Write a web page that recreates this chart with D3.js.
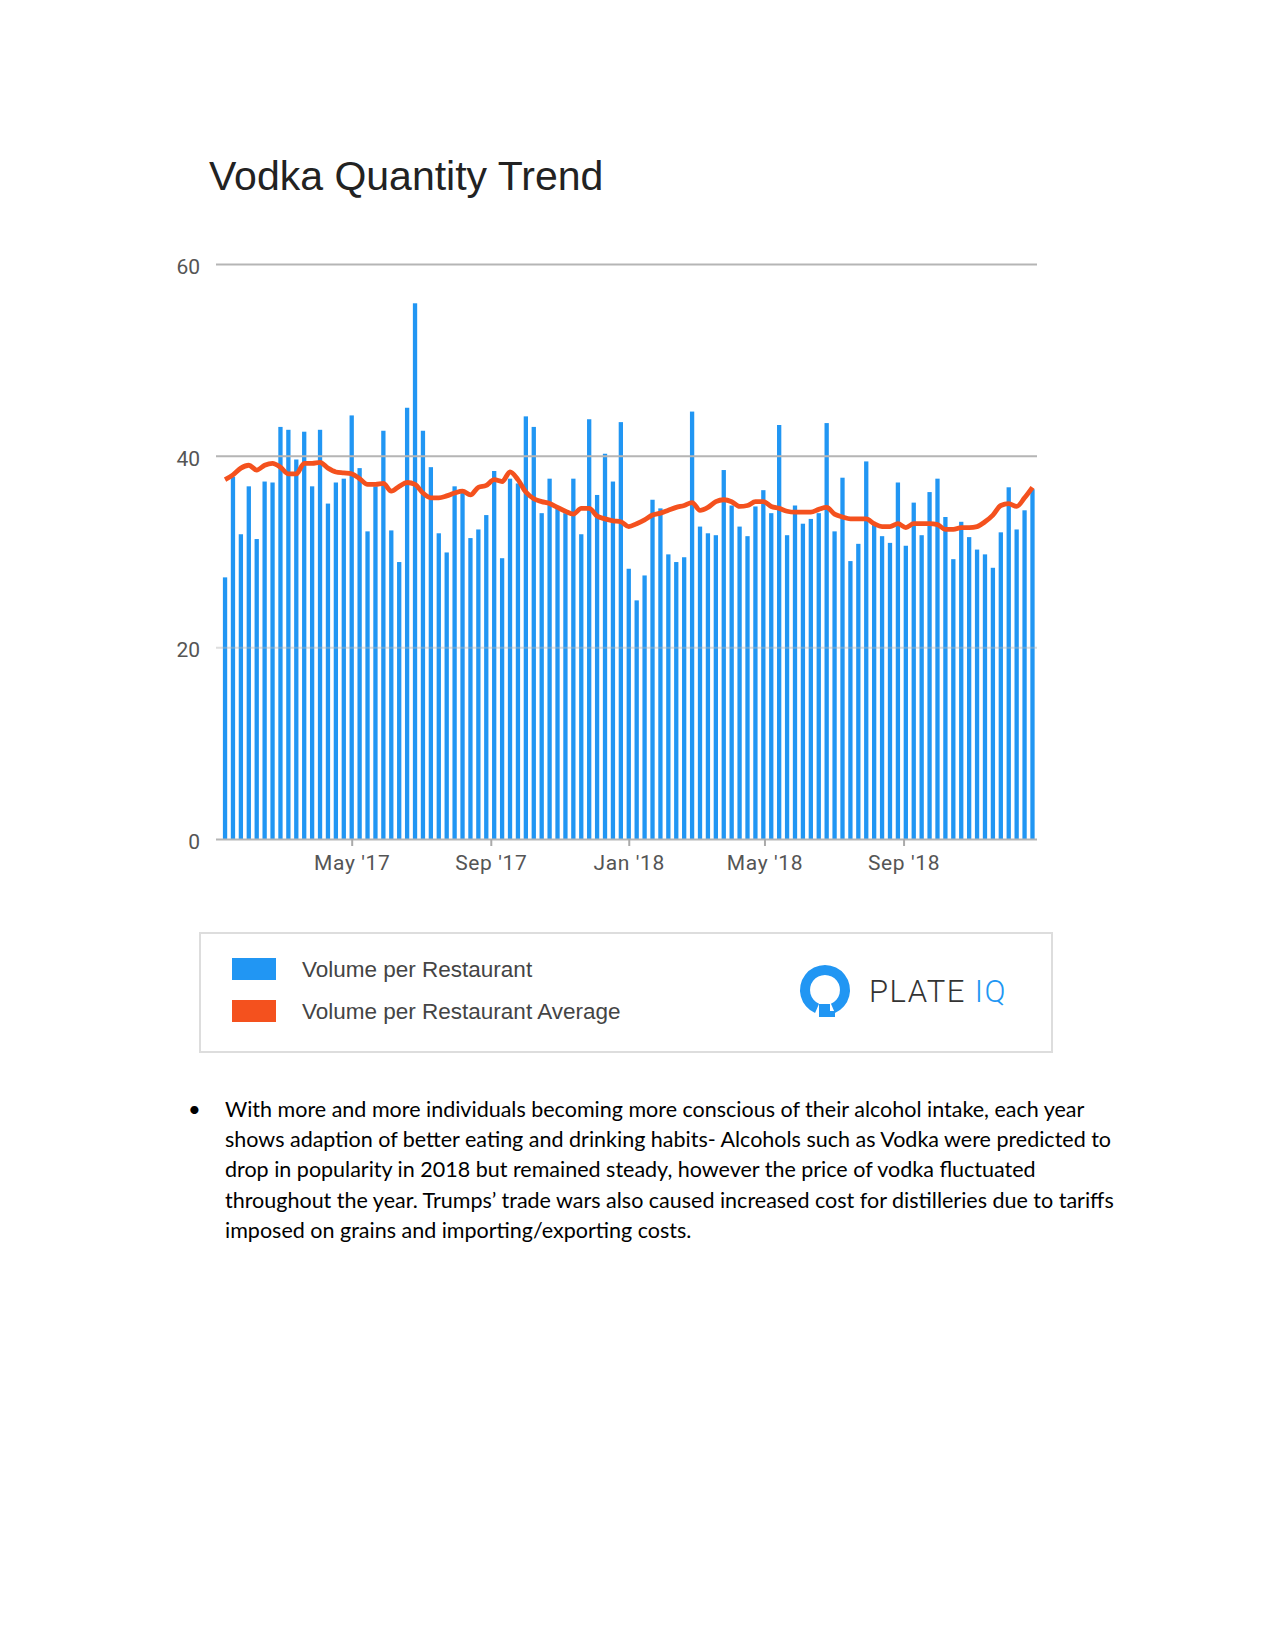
<!DOCTYPE html>
<html>
<head>
<meta charset="utf-8">
<script src="https://cdn.jsdelivr.net/npm/d3@7"></script>
<style>
  body { margin: 0; background: #fff; }
  svg { display: block; }
</style>
</head>
<body>
<svg id="js-svg" width="1275" height="1650"></svg>
<script>
// weekly volume per restaurant
const volume = [
  27.3, 37.8, 31.8, 36.8, 31.3, 37.3, 37.2, 43.0, 42.7, 39.6, 42.5, 36.8, 42.7, 35.0, 37.2, 37.6,
  44.2, 38.7, 32.1, 36.8, 42.6, 32.2, 28.9, 45.0, 55.9, 42.6, 38.8, 31.9, 29.9, 36.8, 36.1, 31.4,
  32.3, 33.8, 38.4, 29.3, 37.6, 37.1, 44.1, 43.0, 34.0, 37.6, 34.5, 34.0, 37.6, 31.8, 43.8, 35.9,
  40.2, 37.3, 43.5, 28.2, 24.9, 27.5, 35.4, 34.5, 29.7, 28.9, 29.4, 44.6, 32.6, 31.9, 31.7, 38.5,
  34.8, 32.6, 31.6, 34.7, 36.4, 34.0, 43.2, 31.7, 34.8, 32.9, 33.4, 34.0, 43.4, 32.1, 37.7, 29.0,
  30.8, 39.4, 33.0, 31.6, 30.9, 37.2, 30.6, 35.1, 31.7, 36.2, 37.6, 33.6, 29.2, 33.1, 31.5, 30.2,
  29.7, 28.3, 32.0, 36.7, 32.3, 34.3, 36.5
];

const average = [
  37.5, 38.0, 38.7, 39.0, 38.5, 39.0, 39.2, 38.8, 38.1, 38.1, 39.2, 39.2, 39.3, 38.7, 38.3, 38.2,
  38.1, 37.6, 37.0, 37.0, 37.1, 36.3, 36.8, 37.2, 37.0, 36.1, 35.6, 35.6, 35.8, 36.1, 36.3, 35.9,
  36.7, 36.9, 37.5, 37.3, 38.3, 37.5, 36.2, 35.5, 35.2, 35.0, 34.6, 34.2, 33.9, 34.5, 34.5, 33.7,
  33.4, 33.2, 33.1, 32.6, 32.9, 33.3, 33.8, 34.0, 34.3, 34.6, 34.8, 35.1, 34.3, 34.6, 35.2, 35.4,
  35.2, 34.7, 34.8, 35.2, 35.2, 34.7, 34.5, 34.2, 34.1, 34.1, 34.1, 34.4, 34.6, 33.9, 33.6, 33.4,
  33.4, 33.4, 32.9, 32.6, 32.6, 32.9, 32.5, 32.9, 32.9, 32.9, 32.8, 32.3, 32.3, 32.5, 32.5, 32.6,
  33.1, 33.8, 34.8, 35.0, 34.7, 35.6, 36.7
];

// one bar per week, starting the week of Jan 9 2017
const weeks = d3.timeMonday.range(new Date(2017, 0, 9), new Date(2018, 11, 31)).slice(0, volume.length);

const xTicks = [new Date(2017, 4, 1), new Date(2017, 8, 1), new Date(2018, 0, 1), new Date(2018, 4, 1), new Date(2018, 8, 1)];
const yTicks = [0, 20, 40, 60];

const legendItems = [
  { label: "Volume per Restaurant", color: "#2196F3" },
  { label: "Volume per Restaurant Average", color: "#F4511E" }
];

const bulletLines = [
  "With more and more individuals becoming more conscious of their alcohol intake, each year",
  "shows adaption of better eating and drinking habits- Alcohols such as Vodka were predicted to",
  "drop in popularity in 2018 but remained steady, however the price of vodka fluctuated",
  "throughout the year. Trumps\u2019 trade wars also caused increased cost for distilleries due to tariffs",
  "imposed on grains and importing/exporting costs."
];

const svg = d3.select("#js-svg");
const plotLeft = 216, plotRight = 1037, plotTop = 264, plotBottom = 839;

const xscale = d3.scaleTime()
  .domain([new Date(2017, 0, 1), new Date(2018, 11, 28)])
  .range([plotLeft, plotRight]);
const yscale = d3.scaleLinear().domain([0, 60]).range([plotBottom, plotTop]);

// title
svg.append("text")
  .attr("x", 209).attr("y", 190)
  .attr("font-family", "Liberation Sans, Arial, sans-serif")
  .attr("font-size", 41)
  .attr("fill", "#222")
  .text("Vodka Quantity Trend");

// bars
const barW = 4.3;
svg.append("g")
  .selectAll("rect")
  .data(volume)
  .join("rect")
  .attr("x", (d, i) => xscale(weeks[i]) - barW / 2)
  .attr("y", (d) => yscale(d))
  .attr("width", barW)
  .attr("height", (d) => yscale(0) - yscale(d))
  .attr("fill", "#2196F3");

// grid lines (drawn over bars, light)
const yAxis = svg.append("g")
  .attr("transform", `translate(${plotLeft},0)`)
  .call(d3.axisLeft(yscale).tickValues(yTicks).tickSize(-(plotRight - plotLeft)).tickPadding(16));
yAxis.select(".domain").remove();
yAxis.selectAll(".tick line")
  .attr("stroke", "#b5b5b5")
  .attr("stroke-opacity", (d) => (d === 20 ? 0.45 : 1))
  .attr("stroke-width", 2);
yAxis.selectAll(".tick text")
  .attr("font-family", "Roboto, sans-serif")
  .attr("font-size", 21)
  .attr("fill", "#555")
  .attr("dy", "0.45em");

// x axis
const xAxis = svg.append("g")
  .attr("transform", `translate(0,${plotBottom})`)
  .call(d3.axisBottom(xscale).tickValues(xTicks).tickFormat(d3.timeFormat("%b '%y")).tickSize(7).tickPadding(9));
xAxis.select(".domain").remove();
xAxis.selectAll(".tick line").attr("stroke", "#aaa").attr("stroke-width", 2);
xAxis.selectAll(".tick text")
  .attr("font-family", "Roboto, sans-serif")
  .attr("font-size", 21)
  .attr("letter-spacing", 0.6)
  .attr("fill", "#555");

// average line
const line = d3.line()
  .x((d, i) => xscale(weeks[i]))
  .y((d) => yscale(d))
  .curve(d3.curveMonotoneX);
svg.append("path")
  .datum(average)
  .attr("d", line)
  .attr("fill", "none")
  .attr("stroke", "#F4511E")
  .attr("stroke-width", 4.8)
  .attr("stroke-linejoin", "round");

// legend box
svg.append("rect")
  .attr("x", 200).attr("y", 933)
  .attr("width", 852).attr("height", 119)
  .attr("fill", "#fff")
  .attr("stroke", "#ddd")
  .attr("stroke-width", 2);

const legend = svg.append("g")
  .selectAll("g")
  .data(legendItems)
  .join("g")
  .attr("transform", (d, i) => `translate(232,${958 + i * 42})`);
legend.append("rect")
  .attr("width", 44).attr("height", 22)
  .attr("fill", (d) => d.color);
legend.append("text")
  .attr("x", 70).attr("y", 19)
  .attr("font-family", "Liberation Sans, Arial, sans-serif")
  .attr("font-size", 22.5)
  .attr("fill", "#444")
  .text((d) => d.label);

// Plate IQ logo
const logo = svg.append("g").attr("transform", "translate(825,990)");
logo.append("path")
  .attr("d", d3.arc().innerRadius(15).outerRadius(25).startAngle(Math.PI * 1.13).endAngle(Math.PI * 2.87)())
  .attr("fill", "#2196F3");
logo.append("path")
  .attr("d", "M-6,14 L-6,27 L10,27 L10,21 L5,21 L5,14 Z")
  .attr("fill", "#2196F3");
const logoText = svg.append("text")
  .attr("x", 869).attr("y", 1002)
  .attr("font-family", "Roboto, sans-serif")
  .attr("font-weight", 300)
  .attr("font-size", 31)
  .attr("letter-spacing", 1.5);
logoText.append("tspan").attr("fill", "#333").text("PLATE ");
logoText.append("tspan").attr("fill", "#2196F3").text("IQ");

// bullet paragraph
svg.append("text")
  .attr("x", 188).attr("y", 1117)
  .attr("font-family", "Lato, sans-serif")
  .attr("font-size", 22)
  .attr("fill", "#000")
  .text("\u2022");
svg.append("g")
  .selectAll("text")
  .data(bulletLines)
  .join("text")
  .attr("x", 225)
  .attr("y", (d, i) => 1117 + i * 30.2)
  .attr("font-family", "Lato, sans-serif")
  .attr("font-size", 21.5)
  .attr("fill", "#000")
  .text((d) => d);
</script>
</body>
</html>
